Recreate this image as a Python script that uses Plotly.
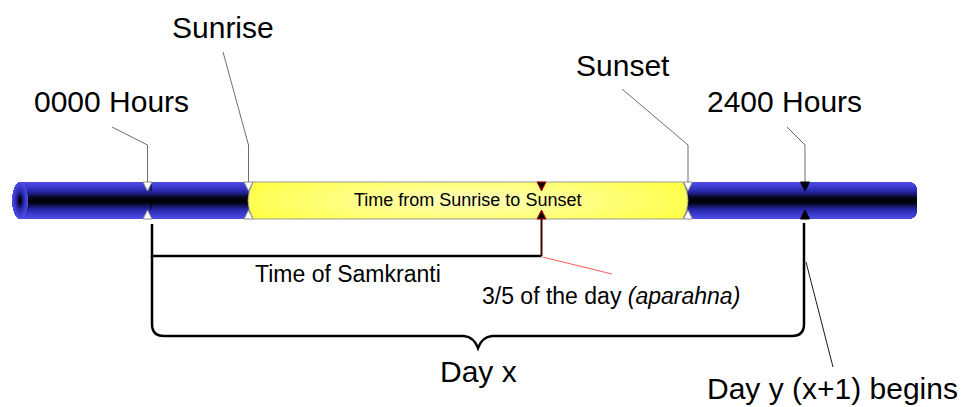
import numpy as np
import plotly.graph_objects as go

W, H = 967, 407
FONT = "Liberation Sans, Arial, sans-serif"

# Points along the timeline (diagram units, left to right)
EVENT_NAMES = ["0000 Hours", "Sunrise", "Sunset", "2400 Hours"]
EVENT_X = [147.5, 248.5, 688, 805]
SAMKRANTI_X = 541.5
DAY_START_X = 152
DAY_END_X = 804

# Label placement for each event (left edge, middle) and where its callout starts
LABEL_POS = [(32, 101), (170, 27), (574, 65), (705, 101)]
CALLOUT_START = [(112, 127), (223, 52), (622, 89), (787, 127)]

# Tube geometry
TUBE_LEFT, TUBE_RIGHT = 12, 917
TUBE_TOP, TUBE_BOTTOM = 182, 219
CAP_RX = 8
END_R = 8
DAY_LEFT, DAY_RIGHT = 253, 683  # yellow (daylight) part, before bulge

fig = go.Figure()

# ---- tube drawn as heatmaps (NaN outside the tube is transparent)
xs = np.arange(0, W) + 0.5
ys = np.arange(TUBE_TOP - 1, TUBE_BOTTOM + 1) + 0.5
yc = (TUBE_TOP + TUBE_BOTTOM) / 2
ry = (TUBE_BOTTOM - TUBE_TOP) / 2
cap_cx = TUBE_LEFT + CAP_RX

z_blue = np.full((len(ys), len(xs)), np.nan)
z_day = np.full((len(ys), len(xs)), np.nan)
for i, y in enumerate(ys):
    u = (y - yc) / ry
    if abs(u) > 1:
        continue
    # rounded right end
    if y < TUBE_TOP + END_R:
        d = TUBE_TOP + END_R - y
        x_end = TUBE_RIGHT - END_R + np.sqrt(max(END_R**2 - d**2, 0))
    elif y > TUBE_BOTTOM - END_R:
        d = y - (TUBE_BOTTOM - END_R)
        x_end = TUBE_RIGHT - END_R + np.sqrt(max(END_R**2 - d**2, 0))
    else:
        x_end = TUBE_RIGHT
    bulge = 5 * (1 - u**2)
    for j, x in enumerate(xs):
        e = np.sqrt(((x - cap_cx) / CAP_RX) ** 2 + u**2)
        if e <= 1:
            z_blue[i, j] = e
        elif cap_cx <= x <= x_end:
            z_blue[i, j] = abs(u)
        if DAY_LEFT - bulge <= x <= DAY_RIGHT + bulge:
            z_day[i, j] = np.sqrt(((x - 467) / 240) ** 2 + (u * 0.6) ** 2)

fig.add_trace(
    go.Heatmap(
        x=xs,
        y=ys,
        z=z_blue,
        zmin=0,
        zmax=1,
        colorscale=[[0, "#000000"], [0.15, "#04041a"], [0.45, "#2424a0"], [0.75, "#3c3cd0"], [1, "#4e4ee6"]],
        showscale=False,
        hoverinfo="skip",
    )
)
fig.add_trace(
    go.Heatmap(
        x=xs,
        y=ys,
        z=z_day,
        zmin=0,
        zmax=1,
        colorscale=[[0, "#ffffbc"], [0.5, "#ffff84"], [1, "#ffff48"]],
        showscale=False,
        hoverinfo="skip",
    )
)

shapes = []

# outline of the daylight part
shapes.append(
    dict(
        type="path",
        path=f"M {DAY_LEFT},{TUBE_TOP} L {DAY_RIGHT},{TUBE_TOP} Q {DAY_RIGHT + 10},{yc} {DAY_RIGHT},{TUBE_BOTTOM} "
        f"L {DAY_LEFT},{TUBE_BOTTOM} Q {DAY_LEFT - 10},{yc} {DAY_LEFT},{TUBE_TOP} Z",
        line=dict(color="#9a9a9a", width=1),
    )
)

# dashed line at start of the day
shapes.append(
    dict(type="line", x0=DAY_START_X - 1, x1=DAY_START_X - 1, y0=TUBE_TOP, y1=TUBE_BOTTOM,
         line=dict(color="#000000", width=1, dash="dash"))
)

# callouts from labels to the tube
for (sx, sy), ex in zip(CALLOUT_START, EVENT_X):
    shapes.append(
        dict(type="path", path=f"M {sx},{sy} L {ex},145 L {ex},{TUBE_TOP}",
             line=dict(color="#6e6e6e", width=1))
    )


# triangle markers on the tube edges
def markers(x, fill, edge):
    return [
        dict(type="path", path=f"M {x - 4.5},{TUBE_TOP} L {x + 4.5},{TUBE_TOP} L {x},{TUBE_TOP + 9} Z",
             fillcolor=fill, line=dict(color=edge, width=1)),
        dict(type="path", path=f"M {x - 4.5},{TUBE_BOTTOM} L {x + 4.5},{TUBE_BOTTOM} L {x},{TUBE_BOTTOM - 9} Z",
             fillcolor=fill, line=dict(color=edge, width=1)),
    ]


for x in EVENT_X[:3]:
    shapes += markers(x, "#ffffff", "#8a8a8a")
shapes += markers(EVENT_X[3], "#000000", "#000000")
shapes += markers(SAMKRANTI_X, "#000000", "#d00000")

# time of samkranti bracket
shapes.append(
    dict(type="path", path=f"M {DAY_START_X},224 L {DAY_START_X},256 L {SAMKRANTI_X},256",
         line=dict(color="#000000", width=2.5))
)
shapes.append(
    dict(type="line", x0=SAMKRANTI_X, x1=SAMKRANTI_X, y0=TUBE_BOTTOM, y1=256,
         line=dict(color="#4a0000", width=2))
)
shapes.append(
    dict(type="line", x0=SAMKRANTI_X + 1, x1=612, y0=257, y1=274,
         line=dict(color="#ff5a5a", width=1))
)

# day x brace
mid = (DAY_START_X + DAY_END_X) / 2
shapes.append(
    dict(
        type="path",
        path=(
            f"M {DAY_START_X},256 L {DAY_START_X},324 Q {DAY_START_X},336 {DAY_START_X + 12},336 "
            f"L {mid - 14},336 Q {mid - 4},337 {mid},348 Q {mid + 4},337 {mid + 14},336 "
            f"L {DAY_END_X - 12},336 Q {DAY_END_X},336 {DAY_END_X},324 L {DAY_END_X},223"
        ),
        line=dict(color="#000000", width=2.5),
    )
)
shapes.append(
    dict(type="line", x0=DAY_END_X + 2, x1=833, y0=262, y1=367,
         line=dict(color="#1a1a1a", width=1))
)

fig.update_layout(shapes=shapes)

# ---- text
for name, (lx, ly) in zip(EVENT_NAMES, LABEL_POS):
    fig.add_annotation(x=lx, y=ly, text=name, xanchor="left", yanchor="middle",
                       showarrow=False, font=dict(size=30, color="#000000", family=FONT))

texts = [
    ("Time from Sunrise to Sunset", 467.5, 200, 18, "center"),
    ("Time of Samkranti", 253, 274, 23, "left"),
    ("3/5 of the day <i>(aparahna)</i>", 480, 296, 23, "left"),
    ("Day x", mid, 371, 30, "center"),
    ("Day y (x+1) begins", 705, 388, 30, "left"),
]
for t, x, y, s, anchor in texts:
    fig.add_annotation(x=x, y=y, text=t, xanchor=anchor, yanchor="middle",
                       showarrow=False, font=dict(size=s, color="#000000", family=FONT))

fig.update_xaxes(range=[0, W], visible=False, fixedrange=True)
fig.update_yaxes(range=[H, 0], visible=False, fixedrange=True)
fig.update_layout(
    width=W,
    height=H,
    margin=dict(l=0, r=0, t=0, b=0),
    plot_bgcolor="#ffffff",
    paper_bgcolor="#ffffff",
    showlegend=False,
)

fig.write_html(
    "out.html",
    config={"displayModeBar": False},
    post_script="document.body.style.margin='0';",
)
